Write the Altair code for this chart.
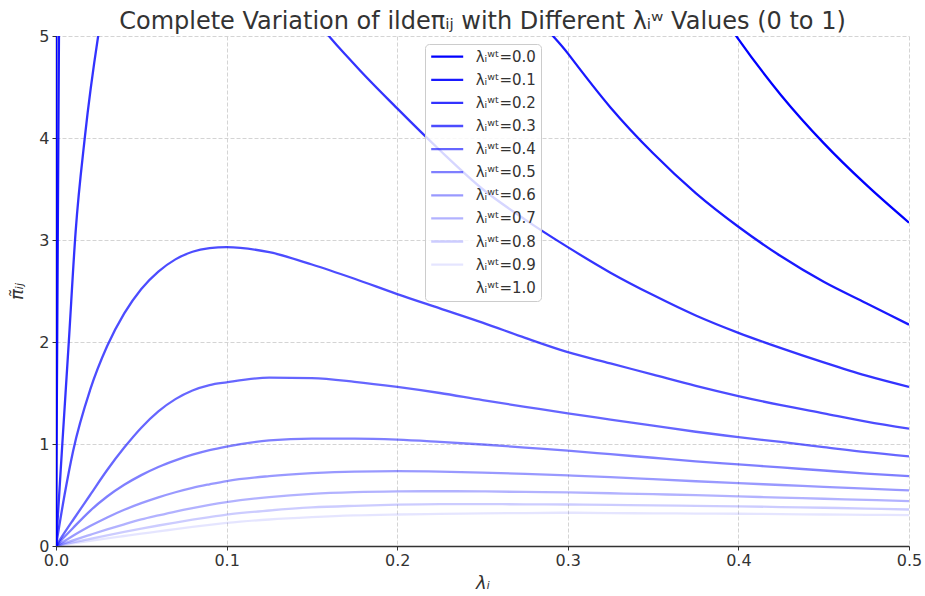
import altair as alt
import pandas as pd

# ---------------- data ----------------
lam_values = [0.0, 0.1, 0.2, 0.3, 0.4, 0.5, 0.6, 0.7, 0.8, 0.9, 1.0]

x_fine = [0.0, 0.005, 0.01, 0.02, 0.03, 0.04, 0.05, 0.06, 0.07, 0.08, 0.09, 0.1]
x_coarse = [0.125, 0.15, 0.175, 0.2, 0.225, 0.25, 0.275, 0.3,
            0.325, 0.35, 0.375, 0.4, 0.425, 0.45, 0.475, 0.5]
x_main = x_fine + x_coarse

# curves that leave the visible range (values above 5 are clipped)
x_l00 = [0.0, 0.001, 0.1, 0.2, 0.3, 0.35, 0.375, 0.4, 0.425, 0.45, 0.475, 0.5]
y_l00 = [0.0, 40.0, 80.0, 20.0, 8.8, 6.4, 5.6, 4.97, 4.42, 3.95, 3.54, 3.17]

x_l01 = [0.0, 0.0018, 0.01, 0.1, 0.2, 0.25, 0.275, 0.3, 0.325, 0.35,
         0.375, 0.4, 0.425, 0.45, 0.475, 0.5]
y_l01 = [0.0, 5.2, 25.0, 30.0, 11.0, 6.6, 5.4, 4.83, 4.30, 3.85,
         3.46, 3.13, 2.84, 2.59, 2.38, 2.17]

x_l02 = [0.0, 0.0037, 0.0075, 0.0115, 0.017, 0.03, 0.05, 0.1, 0.125, 0.15,
         0.175, 0.2, 0.225, 0.25, 0.275, 0.3, 0.325, 0.35, 0.375, 0.4,
         0.425, 0.45, 0.475, 0.5]
y_l02 = [0.0, 1.0, 2.0, 3.08, 4.02, 5.55, 7.0, 7.2, 6.0, 5.22,
         4.72, 4.29, 3.88, 3.50, 3.20, 2.93, 2.68, 2.46, 2.26, 2.09,
         1.94, 1.80, 1.67, 1.56]

# curves sampled on x_main
y_l03 = [0.0, 0.50, 0.93, 1.53, 1.96, 2.28, 2.52, 2.69, 2.81, 2.885, 2.92, 2.93,
         2.88, 2.76, 2.62, 2.47, 2.33, 2.19, 2.04, 1.90,
         1.79, 1.68, 1.57, 1.47, 1.38, 1.30, 1.22, 1.15]
y_l04 = [0.0, 0.13, 0.255, 0.50, 0.745, 0.965, 1.16, 1.32, 1.44, 1.525, 1.578, 1.605,
         1.65, 1.645, 1.61, 1.56, 1.50, 1.43, 1.365, 1.30,
         1.24, 1.18, 1.12, 1.068, 1.02, 0.97, 0.92, 0.878]
y_l05 = [0.0, 0.09, 0.177, 0.345, 0.485, 0.60, 0.695, 0.775, 0.84, 0.895, 0.94, 0.975,
         1.035, 1.052, 1.052, 1.042, 1.02, 0.995, 0.965, 0.935,
         0.90, 0.865, 0.83, 0.80, 0.77, 0.74, 0.71, 0.685]
y_l06 = [0.0, 0.05, 0.10, 0.195, 0.28, 0.355, 0.42, 0.477, 0.527, 0.57, 0.605, 0.637,
         0.685, 0.714, 0.73, 0.734, 0.73, 0.72, 0.707, 0.692,
         0.675, 0.655, 0.635, 0.616, 0.598, 0.58, 0.562, 0.545]
y_l07 = [0.0, 0.028, 0.056, 0.11, 0.163, 0.213, 0.26, 0.30, 0.338, 0.372, 0.403, 0.43,
         0.48, 0.512, 0.528, 0.535, 0.537, 0.535, 0.53, 0.525,
         0.517, 0.508, 0.498, 0.486, 0.475, 0.463, 0.452, 0.44]
y_l08 = [0.0, 0.018, 0.036, 0.071, 0.105, 0.138, 0.17, 0.201, 0.23, 0.258, 0.284, 0.308,
         0.348, 0.378, 0.394, 0.405, 0.41, 0.41, 0.409, 0.407,
         0.403, 0.398, 0.393, 0.389, 0.382, 0.375, 0.367, 0.358]
y_l09 = [0.0, 0.013, 0.026, 0.051, 0.075, 0.098, 0.121, 0.143, 0.166, 0.188, 0.208, 0.226,
         0.26, 0.283, 0.30, 0.309, 0.315, 0.319, 0.323, 0.326,
         0.323, 0.32, 0.318, 0.316, 0.313, 0.309, 0.306, 0.302]
y_l10 = [0.0] * len(x_main)  # fully transparent curve (alpha 0)

series_xy = [
    (x_l00, y_l00), (x_l01, y_l01), (x_l02, y_l02),
    (x_main, y_l03), (x_main, y_l04), (x_main, y_l05), (x_main, y_l06),
    (x_main, y_l07), (x_main, y_l08), (x_main, y_l09), (x_main, y_l10),
]

labels = [f"λᵢʷᵗ={v:.1f}" for v in lam_values]
colors = [f"rgba(0,0,255,{1 - v:.2f})" for v in lam_values]

rows = []
for lab, (xs, ys) in zip(labels, series_xy):
    for i, (xv, yv) in enumerate(zip(xs, ys)):
        rows.append({"x": xv, "y": yv, "series": lab, "order": i})
df = pd.DataFrame(rows)

FONT = "DejaVu Sans"
TXT = "#333333"

axis_common = dict(
    labelFont=FONT, titleFont=FONT, labelFontSize=16, labelColor=TXT, titleColor=TXT,
    domainColor="#333333", domainWidth=1.4, tickColor="#333333", tickSize=4,
    grid=True, gridColor="#cfcfcf", gridDash=[4, 2], gridWidth=0.9,
    titleFontStyle="italic", titleFontWeight="normal", titleFontSize=18,
    labelFlush=False,
)

chart = alt.Chart(df).mark_line(clip=True, strokeWidth=2.3, interpolate="monotone").encode(
    x=alt.X("x:Q",
            scale=alt.Scale(domain=[0, 0.5], nice=False, zero=False),
            axis=alt.Axis(values=[0, 0.1, 0.2, 0.3, 0.4, 0.5], format=".1f",
                          title="λᵢ", titlePadding=6, labelPadding=2, **axis_common)),
    y=alt.Y("y:Q",
            scale=alt.Scale(domain=[0, 5], nice=False, zero=False),
            axis=alt.Axis(values=[0, 1, 2, 3, 4, 5], format="d",
                          title="π̃ᵢⱼ", titlePadding=12, labelPadding=3, **axis_common)),
    color=alt.Color("series:N",
                    scale=alt.Scale(domain=labels, range=colors),
                    sort=labels,
                    legend=alt.Legend(title=None, orient="none", legendX=369, legendY=8,
                                      symbolType="stroke", symbolSize=1024,
                                      symbolStrokeWidth=2.3, clipHeight=16,
                                      labelFontSize=15, labelFont=FONT, labelColor=TXT,
                                      labelOffset=11, rowPadding=7.1, padding=4.7,
                                      strokeColor="#cccccc", cornerRadius=4,
                                      fillColor="rgba(255,255,255,0.8)")),
    order=alt.Order("order:Q"),
).properties(
    width=853,
    height=510,
    title=alt.TitleParams(
        "Complete Variation of ildeπᵢⱼ with Different λᵢʷ Values (0 to 1)",
        fontSize=24, font=FONT, fontWeight="normal", color=TXT,
        anchor="middle", offset=-6),
    padding={"left": 56, "top": 36, "right": 16, "bottom": 50},
    autosize=alt.AutoSizeParams(type="none"),
    background="white",
).configure_view(
    stroke=None,
)

chart.save("out.html", embed_options={"renderer": "svg", "actions": False})
